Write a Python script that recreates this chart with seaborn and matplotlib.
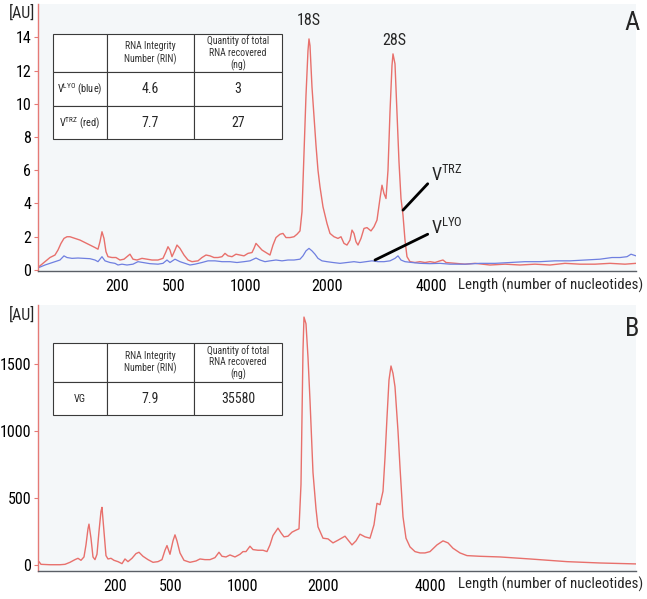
import numpy as np
import pandas as pd
import seaborn as sns
import matplotlib.pyplot as plt
from matplotlib import font_manager

# migration position (arbitrary units along the electropherogram) and signal
top_pos_trz = [1, 7, 12, 17, 20, 23, 26, 29, 32, 37, 42, 47, 52, 57, 60, 62, 64, 66, 68, 70,
               74, 78, 82, 86, 90, 92, 95, 99, 104, 109, 114, 120, 125, 128, 130, 132, 134, 137,
               139, 142, 146, 150, 154, 160, 164, 168, 172, 176, 180, 184, 187, 190, 194, 198,
               202, 206, 210, 214, 216, 218, 221, 224, 228, 232, 235, 238, 242, 245, 248, 252,
               256, 259, 262, 264, 266, 268, 270, 271, 272, 274, 276, 278, 280, 282, 285, 289,
               292, 296, 300, 303, 306, 309, 312, 314, 316, 318, 320, 323, 326, 329, 333, 336,
               339, 342, 344, 346, 348, 350, 352, 354, 355, 357, 359, 361, 363, 365, 367, 369,
               372, 377, 382, 387, 392, 397, 402, 405, 408, 417, 427, 437, 452, 467, 482, 497,
               512, 527, 542, 557, 572, 587, 598]
top_trz = [0.2, 0.5, 0.75, 0.9, 1.2, 1.6, 1.9, 2.0, 2.0, 1.9, 1.8, 1.65, 1.5, 1.35, 1.25, 1.7,
           2.3, 1.9, 1.1, 0.8, 0.75, 0.75, 0.6, 0.65, 0.85, 0.95, 0.65, 0.6, 0.7, 0.65, 0.6, 0.6,
           0.7, 1.1, 1.4, 1.2, 0.8, 1.2, 1.5, 1.3, 0.9, 0.6, 0.5, 0.55, 0.75, 0.9, 0.85, 0.75,
           0.75, 0.8, 1.0, 0.85, 0.8, 0.95, 0.9, 0.85, 1.0, 1.05, 1.3, 1.6, 1.4, 1.2, 1.05, 0.9,
           1.5, 1.95, 2.15, 2.2, 1.95, 1.95, 2.0, 2.15, 2.35, 3.5, 7.0, 10.5, 13.2, 13.9, 13.5,
           11.0, 9.2, 7.5, 6.0, 5.0, 3.8, 2.8, 2.2, 2.0, 1.9, 2.0, 1.6, 1.5, 1.8, 2.4, 2.2, 1.7,
           1.5, 1.9, 2.5, 2.55, 2.35, 2.6, 3.0, 4.3, 5.1, 4.6, 4.3, 6.0, 9.5, 12.3, 13.0, 12.4,
           9.5, 6.5, 4.3, 3.3, 1.8, 0.8, 0.5, 0.45, 0.5, 0.45, 0.5, 0.45, 0.55, 0.6, 0.45, 0.4,
           0.35, 0.4, 0.3, 0.35, 0.3, 0.35, 0.3, 0.4, 0.35, 0.35, 0.4, 0.35, 0.4]

top_pos_lyo = [1, 7, 12, 17, 22, 26, 29, 34, 40, 46, 52, 57, 60, 64, 67, 72, 77, 80, 84, 89,
               95, 100, 105, 112, 120, 125, 129, 132, 137, 142, 147, 152, 157, 164, 170, 177,
               184, 192, 199, 206, 212, 218, 222, 227, 232, 238, 244, 250, 256, 262, 265, 268,
               271, 274, 277, 280, 284, 289, 295, 302, 309, 316, 322, 328, 334, 340, 346, 352,
               357, 360, 363, 367, 374, 382, 392, 402, 412, 427, 442, 457, 472, 487, 502, 517,
               532, 547, 562, 574, 582, 589, 593, 598]
top_lyo = [0.15, 0.3, 0.4, 0.5, 0.6, 0.85, 0.75, 0.7, 0.72, 0.7, 0.68, 0.6, 0.5, 0.8, 0.55,
           0.45, 0.4, 0.3, 0.35, 0.3, 0.35, 0.5, 0.45, 0.38, 0.35, 0.4, 0.6, 0.45, 0.65, 0.5,
           0.4, 0.3, 0.35, 0.45, 0.55, 0.55, 0.5, 0.5, 0.45, 0.5, 0.55, 0.72, 0.6, 0.5, 0.55,
           0.6, 0.55, 0.6, 0.6, 0.65, 0.85, 1.15, 1.3, 1.15, 0.95, 0.7, 0.55, 0.5, 0.45, 0.4,
           0.45, 0.5, 0.45, 0.5, 0.55, 0.5, 0.5, 0.55, 0.7, 0.85, 0.6, 0.5, 0.45, 0.4, 0.38,
           0.4, 0.35, 0.35, 0.4, 0.4, 0.45, 0.5, 0.5, 0.55, 0.55, 0.6, 0.65, 0.75, 0.75, 0.8,
           0.95, 0.85]

bot_pos = [0, 1, 3, 12, 22, 27, 32, 37, 40, 43, 46, 48, 50, 51, 53, 55, 57, 59, 61, 63, 64,
           66, 68, 70, 73, 76, 80, 84, 87, 90, 94, 98, 101, 105, 110, 115, 120, 124, 127, 129,
           132, 135, 137, 139, 142, 146, 152, 158, 162, 167, 172, 177, 181, 184, 188, 192, 197,
           202, 205, 208, 212, 215, 220, 225, 229, 232, 235, 240, 243, 246, 250, 254, 258, 261,
           263, 264, 265, 266, 268, 270, 272, 275, 278, 280, 285, 290, 295, 300, 307, 314, 318,
           322, 327, 332, 336, 339, 342, 345, 347, 349, 351, 353, 355, 357, 360, 362, 365, 368,
           372, 377, 382, 387, 392, 399, 405, 410, 415, 422, 429, 442, 462, 492, 529, 562, 598]
bot_vg = [10, 25, 5, 2, 2, 5, 20, 40, 50, 35, 60, 150, 270, 305, 200, 60, 40, 80, 250, 400,
          430, 250, 70, 45, 50, 35, 25, 10, 45, 25, 50, 85, 95, 65, 40, 20, 25, 40, 110, 145,
          80, 180, 225, 180, 90, 35, 20, 30, 45, 40, 40, 55, 95, 65, 60, 75, 60, 80, 100, 100,
          140, 115, 110, 110, 100, 150, 220, 275, 240, 210, 215, 245, 260, 270, 600, 1100, 1600,
          1850, 1800, 1550, 1230, 690, 420, 285, 200, 195, 165, 185, 215, 150, 180, 230, 210,
          200, 300, 460, 450, 550, 800, 1100, 1380, 1485, 1430, 1330, 1000, 730, 360, 200, 135,
          100, 90, 90, 100, 150, 180, 165, 125, 90, 70, 65, 60, 45, 25, 15, 8]

tick_labels = ["200", "500", "1000", "2000", "4000"]
top_ticks = [79, 136, 208, 289, 393]
bot_ticks = [77, 133, 205, 285, 392]

top_table = [["", "RNA Integrity\nNumber (RIN)", "Quantity of total\nRNA recovered\n(ng)"],
             [r"V$^{\mathrm{LYO}}$ (blue)", "4.6", "3"],
             [r"V$^{\mathrm{TRZ}}$ (red)", "7.7", "27"]]
bot_table = [["", "RNA Integrity\nNumber (RIN)", "Quantity of total\nRNA recovered\n(ng)"],
             ["VG", "7.9", "35580"]]

sns.set_style("ticks")
names = {f.name for f in font_manager.fontManager.ttflist}
narrow = [n for n in ["Liberation Sans Narrow", "Roboto Condensed", "DejaVu Sans Condensed",
                      "Open Sans Condensed", "Noto Sans Condensed"] if n in names]
fam = narrow[0] if narrow else "Liberation Sans"
fs = 11.5 if narrow else 10
plt.rcParams["font.family"] = [fam, "DejaVu Sans"]
plt.rcParams["mathtext.fontset"] = "custom"
plt.rcParams["mathtext.rm"] = fam

RED = "#e8706c"
BLUE = "#6f7fe0"
SPINE_RED = "#e57a76"

fig = plt.figure(figsize=(6.47, 5.99), dpi=100)
ax1 = fig.add_axes([0.0587, 0.5476, 0.9243, 0.4457])
ax2 = fig.add_axes([0.0587, 0.0467, 0.9243, 0.4441])


def style_axis(ax, ticks, yticks, ylim):
    ax.set_facecolor("#f4f7f9")
    ax.set_xlim(0, 598)
    ax.set_ylim(*ylim)
    ax.set_xticks(ticks)
    ax.set_xticklabels(tick_labels, fontsize=fs)
    ax.set_yticks(yticks)
    ax.tick_params(axis="y", colors=SPINE_RED, labelcolor="black", labelsize=fs,
                   length=3, width=0.8, pad=2)
    ax.tick_params(axis="x", length=0, pad=6, labelcolor="black")
    for s in ["top", "right"]:
        ax.spines[s].set_visible(False)
    ax.spines["left"].set_color(SPINE_RED)
    ax.spines["left"].set_linewidth(1.0)
    ax.spines["bottom"].set_color("#5a5f66")
    ax.spines["bottom"].set_linewidth(1.0)
    ax.set_xlabel("Length (number of nucleotides)", fontsize=fs - 0.8, ha="right", va="center")
    ax.set_ylabel("[AU]", fontsize=fs, rotation=0, ha="right", va="center")


def draw_table(ax, rows, bbox, heights):
    tb = ax.table(cellText=rows, cellLoc="center", bbox=bbox, colWidths=[54, 87, 88])
    tb.auto_set_font_size(False)
    for (r, c), cell in tb.get_celld().items():
        cell.set_edgecolor("#3a3a3a")
        cell.set_linewidth(0.8)
        cell.set_facecolor("white")
        cell.set_height(heights[r])
        if r == 0:
            cell.get_text().set_fontsize(7)
            cell.get_text().set_color("#333333")
        elif c == 0:
            cell.get_text().set_fontsize(7.5)
        else:
            cell.get_text().set_fontsize(10)
    return tb


# panel A
sns.lineplot(x=top_pos_trz, y=top_trz, ax=ax1, color=RED, lw=1)
sns.lineplot(x=top_pos_lyo, y=top_lyo, ax=ax1, color=BLUE, lw=0.9)
style_axis(ax1, top_ticks, range(0, 15, 2), (-0.06, 16))
ax1.xaxis.set_label_coords(1.012, -0.052)
ax1.yaxis.set_label_coords(-0.004, 0.966)
draw_table(ax1, top_table, [0.025, 0.494, 0.383, 0.394], [38, 34, 33])
ax1.text(271, 15.0, "18S", fontsize=11.5, ha="center", va="center")
ax1.text(356, 13.8, "28S", fontsize=11.5, ha="center", va="center")
ax1.annotate(r"V$^{\mathrm{TRZ}}$", xy=(365, 3.6), xytext=(393, 5.7), fontsize=13,
             ha="left", va="center",
             arrowprops=dict(arrowstyle="-", lw=2, color="black", relpos=(0, 0.25),
                             shrinkA=0, shrinkB=0))
ax1.annotate(r"V$^{\mathrm{LYO}}$", xy=(337, 0.6), xytext=(393, 2.55), fontsize=13,
             ha="left", va="center",
             arrowprops=dict(arrowstyle="-", lw=2, color="black", relpos=(0, 0.25),
                             shrinkA=0, shrinkB=0))

# panel B
sns.lineplot(x=bot_pos, y=bot_vg, ax=ax2, color=RED, lw=1)
style_axis(ax2, bot_ticks, [0, 500, 1000, 1500], (-45, 1940))
ax2.xaxis.set_label_coords(1.012, -0.049)
ax2.yaxis.set_label_coords(-0.004, 0.962)
draw_table(ax2, bot_table, [0.025, 0.586, 0.383, 0.271], [39, 33])

fig.text(0.977, 0.961, "A", fontsize=19, ha="center", va="center")
fig.text(0.977, 0.451, "B", fontsize=19, ha="center", va="center")

fig.savefig("out.png", dpi=100, facecolor="white")
